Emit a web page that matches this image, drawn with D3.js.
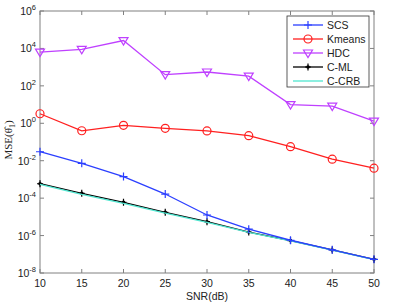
<!DOCTYPE html>
<html><head><meta charset="utf-8">
<script src="https://cdn.jsdelivr.net/npm/d3@7"></script>
<style>body{margin:0;background:#fff}svg{display:block}</style>
</head><body>
<svg id="c" width="399" height="304"></svg>
<script>
const snr = [10,15,20,25,30,35,40,45,50];
const seriesNames = ["SCS","Kmeans","HDC","C-ML","C-CRB"];
const scsLog    = [-1.52,-2.14,-2.85,-3.78,-4.9,-5.66,-6.25,-6.76,-7.27];
const kmeansLog = [0.51,-0.4,-0.11,-0.27,-0.41,-0.66,-1.25,-1.92,-2.4];
const hdcLog    = [3.8,3.95,4.42,2.6,2.74,2.52,1.0,0.92,0.12];
const cmlLog    = [-3.23,-3.74,-4.22,-4.76,-5.26,-5.81,-6.27,-6.77,-7.27];
const ccrbLog   = [-3.26,-3.8,-4.28,-4.8,-5.3,-5.83,-6.28,-6.78,-7.28];
const xTicks = [10,15,20,25,30,35,40,45,50];
const yTickExps = [-8,-6,-4,-2,0,2,4,6];

const colors = ["#2b3fff","#ff2020","#bf40ff","#000000","#50e6d0"];
const data = [scsLog,kmeansLog,hdcLog,cmlLog,ccrbLog].map(a=>a.map(v=>Math.pow(10,v)));

const svg = d3.select("#c");
const L=40,R=374,T=11,B=273;
const x = d3.scaleLinear().domain([10,50]).range([L,R]);
const y = d3.scaleLog().domain([1e-8,1e6]).range([B,T]);
const axisCol="#808080";
const font="Arial, 'Liberation Sans', sans-serif";

svg.append("rect").attr("x",L).attr("y",T).attr("width",R-L).attr("height",B-T)
  .attr("fill","none").attr("stroke",axisCol).attr("stroke-width",1);
xTicks.forEach(t=>{
  svg.append("line").attr("x1",x(t)).attr("x2",x(t)).attr("y1",B).attr("y2",B-4).attr("stroke",axisCol);
  svg.append("line").attr("x1",x(t)).attr("x2",x(t)).attr("y1",T).attr("y2",T+4).attr("stroke",axisCol);
  svg.append("text").attr("x",x(t)).attr("y",B+14).attr("text-anchor","middle")
    .attr("font-family",font).attr("font-size",10.5).attr("fill","#222").text(t);
});
yTickExps.forEach(e=>{
  const yy=y(Math.pow(10,e));
  svg.append("line").attr("x1",L).attr("x2",L+4).attr("y1",yy).attr("y2",yy).attr("stroke",axisCol);
  svg.append("line").attr("x1",R).attr("x2",R-4).attr("y1",yy).attr("y2",yy).attr("stroke",axisCol);
  const t=svg.append("text").attr("x",L-4).attr("y",yy+4).attr("text-anchor","end")
    .attr("font-family",font).attr("font-size",10.5).attr("fill","#222");
  t.append("tspan").text("10");
  t.append("tspan").attr("dy",-5).attr("font-size",7.5).text(e);
});
svg.append("text").attr("x",(L+R)/2).attr("y",300).attr("text-anchor","middle")
  .attr("font-family",font).attr("font-size",10.5).attr("fill","#222").text("SNR(dB)");
const yl=svg.append("text").attr("transform","translate(12,140) rotate(-90)").attr("text-anchor","middle")
  .attr("font-family","'Liberation Serif','Times New Roman',serif").attr("font-size",11).attr("fill","#222");
yl.append("tspan").text("MSE(");
yl.append("tspan").text("θ̂");
yl.append("tspan").attr("dy",3).attr("font-size",8).text("1");
yl.append("tspan").attr("dy",-3).text(")");

const line=d3.line().x((d,i)=>x(snr[i])).y(d=>y(d));
function marker(g,k,cx,cy,col){
  if(k===0){ g.append("path").attr("d",`M${cx-4},${cy}H${cx+4}M${cx},${cy-4}V${cy+4}`).attr("stroke",col).attr("stroke-width",1.2).attr("fill","none"); }
  else if(k===1){ g.append("circle").attr("cx",cx).attr("cy",cy).attr("r",4).attr("stroke",col).attr("stroke-width",1.2).attr("fill","none"); }
  else if(k===2){ g.append("path").attr("d",`M${cx-4.5},${cy-3}L${cx+4.5},${cy-3}L${cx},${cy+4.5}Z`).attr("stroke",col).attr("stroke-width",1.2).attr("fill","none"); }
  else if(k===3){ g.append("path").attr("d",`M${cx-3},${cy}H${cx+3}M${cx},${cy-3.5}V${cy+3.5}`).attr("stroke",col).attr("stroke-width",1.2);
    g.append("circle").attr("cx",cx).attr("cy",cy).attr("r",1.8).attr("fill",col); }
}
const drawOrder=[3,4,0,1,2];
drawOrder.forEach(k=>{
  const g=svg.append("g");
  g.append("path").datum(data[k]).attr("d",line).attr("fill","none").attr("stroke",colors[k]).attr("stroke-width",1.3);
  data[k].forEach((d,i)=>marker(g,k,x(snr[i]),y(d),colors[k]));
});
const lg=svg.append("g");
lg.append("rect").attr("x",287).attr("y",16).attr("width",82).attr("height",71).attr("fill","#fff").attr("stroke","#333").attr("stroke-width",0.8);
seriesNames.forEach((n,k)=>{
  const yy=25+k*14;
  lg.append("line").attr("x1",293).attr("x2",323).attr("y1",yy).attr("y2",yy).attr("stroke",colors[k]).attr("stroke-width",1.3);
  marker(lg,k,308,yy,colors[k]);
  lg.append("text").attr("x",327).attr("y",yy+4).attr("font-family",font).attr("font-size",10.5).attr("fill","#222").text(n);
});
</script>
</body></html>
